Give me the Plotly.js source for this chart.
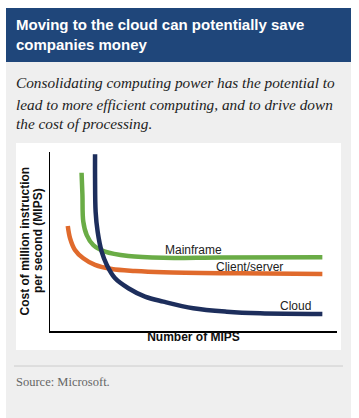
<!DOCTYPE html>
<html>
<head>
<meta charset="utf-8">
<script src="https://cdn.plot.ly/plotly-3.0.1.min.js"></script>
<style>
html,body{margin:0;padding:0;background:#fff;}
#chart{width:359px;height:418px;}
</style>
</head>
<body>
<div id="chart"></div>
<script>
// ---- data (abstract units: x = MIPS 0-100, y = cost 0-100) ----
var cloudX = [15.7, 15.7, 15.9, 16.6, 18.0, 19.8, 22.6, 27.3, 33.1, 39.5, 49.9, 61.6, 73.2, 94.9];
var cloudY = [98.7, 85.5, 66.6, 55.5, 44.3, 36.9, 29.6, 23.9, 19.2, 16.4, 12.7, 10.8, 9.9, 9.5];
var mainframeX = [11.0, 11.3, 11.6, 12.8, 15.1, 19.2, 27.3, 39.5, 59.2, 94.9];
var mainframeY = [88.4, 76.0, 61.1, 53.6, 48.0, 44.3, 41.9, 40.9, 41.1, 41.2];
var clientX = [6.2, 7.0, 8.7, 11.6, 15.7, 21.5, 29.6, 39.5, 66.2, 94.9];
var clientY = [58.7, 51.8, 45.3, 40.6, 36.9, 34.6, 33.5, 32.8, 32.2, 31.8];
var seriesNames = ["Mainframe", "Client/server", "Cloud"];
var labelX = [49.9, 69.6, 85.7];
var labelY = [45.5, 35.5, 13.7];
var yTitleLines = ["Cost of million instruction", "per second (MIPS)"];

var W = 359, H = 418;
var M = {l: 50, r: 22, t: 152, b: 87};
function px(x){ return (x - M.l) / (W - M.l - M.r); }
function py(y){ return (H - M.b - y) / (H - M.t - M.b); }

var traces = [
  {x: mainframeX, y: mainframeY, name: seriesNames[0], mode: 'lines',
   line: {color: '#6aac46', width: 4.5, shape: 'spline', smoothing: 1}},
  {x: clientX, y: clientY, name: seriesNames[1], mode: 'lines',
   line: {color: '#e06a2c', width: 4.5, shape: 'spline', smoothing: 1}},
  {x: cloudX, y: cloudY, name: seriesNames[2], mode: 'lines',
   line: {color: '#1d2e5c', width: 4.5, shape: 'spline', smoothing: 1}}
];

var hdrFont = {family: 'Arial, "Liberation Sans", sans-serif', size: 15, color: '#ffffff'};
var subFont = {family: '"Liberation Serif", serif', size: 15.3, color: '#222222'};
var axFont = {family: 'Arial, "Liberation Sans", sans-serif', size: 12, color: '#111111'};

var annotations = [
  {xref: 'paper', yref: 'paper', x: px(14), y: py(24), xanchor: 'left', yanchor: 'middle', showarrow: false,
   text: '<b>Moving to the cloud can potentially save</b>', font: hdrFont},
  {xref: 'paper', yref: 'paper', x: px(14), y: py(44), xanchor: 'left', yanchor: 'middle', showarrow: false,
   text: '<b>companies money</b>', font: hdrFont},
  {xref: 'paper', yref: 'paper', x: px(14), y: py(83), xanchor: 'left', yanchor: 'middle', showarrow: false,
   text: '<i>Consolidating computing power has the potential to</i>', font: subFont},
  {xref: 'paper', yref: 'paper', x: px(14), y: py(104), xanchor: 'left', yanchor: 'middle', showarrow: false,
   text: '<i>lead to more efficient computing, and to drive down</i>', font: subFont},
  {xref: 'paper', yref: 'paper', x: px(14), y: py(124), xanchor: 'left', yanchor: 'middle', showarrow: false,
   text: '<i>the cost of processing.</i>', font: subFont},
  {xref: 'paper', yref: 'paper', x: px(14), y: py(382), xanchor: 'left', yanchor: 'middle', showarrow: false,
   text: 'Source: Microsoft.', font: {family: '"Liberation Serif", serif', size: 12.5, color: '#666666'}},
  {xref: 'paper', yref: 'paper', x: px(24.5), y: py(241), xanchor: 'center', yanchor: 'middle', showarrow: false,
   textangle: -90, text: '<b>' + yTitleLines[0] + '</b>', font: axFont},
  {xref: 'paper', yref: 'paper', x: px(38), y: py(241), xanchor: 'center', yanchor: 'middle', showarrow: false,
   textangle: -90, text: '<b>' + yTitleLines[1] + '</b>', font: axFont}
];
for (var i = 0; i < seriesNames.length; i++) {
  annotations.push({x: labelX[i], y: labelY[i], xref: 'x', yref: 'y', showarrow: false,
    xanchor: 'center', yanchor: 'middle', text: seriesNames[i],
    font: {family: 'Arial, "Liberation Sans", sans-serif', size: 12, color: '#222222'}});
}

var shapes = [
  {type: 'rect', xref: 'paper', yref: 'paper', layer: 'below', x0: px(6), x1: px(351), y0: py(62), y1: py(418),
   fillcolor: '#efefef', line: {width: 0}},
  {type: 'rect', xref: 'paper', yref: 'paper', layer: 'below', x0: px(6), x1: px(351), y0: py(8), y1: py(62),
   fillcolor: '#1f467a', line: {width: 0}},
  {type: 'rect', xref: 'paper', yref: 'paper', layer: 'below', x0: px(16), x1: px(341), y0: py(143), y1: py(350),
   fillcolor: '#ffffff', line: {width: 0}},
  {type: 'line', xref: 'paper', yref: 'paper', layer: 'below', x0: px(14), x1: px(343), y0: py(366), y1: py(366),
   line: {color: '#cccccc', width: 1}}
];

var layout = {
  width: W, height: H, margin: M,
  paper_bgcolor: '#ffffff', plot_bgcolor: 'rgba(0,0,0,0)',
  showlegend: false,
  xaxis: {range: [0, 100], showgrid: false, zeroline: false, showticklabels: false, ticks: '',
          showline: true, linecolor: '#000000', linewidth: 1.5, fixedrange: true,
          title: {text: '<b>Number of MIPS</b>', font: axFont, standoff: 1}},
  yaxis: {range: [0, 100], showgrid: false, zeroline: false, showticklabels: false, ticks: '',
          showline: true, linecolor: '#000000', linewidth: 1.5, fixedrange: true},
  annotations: annotations,
  shapes: shapes
};

Plotly.newPlot('chart', traces, layout, {displayModeBar: false, staticPlot: true});
</script>
</body>
</html>
